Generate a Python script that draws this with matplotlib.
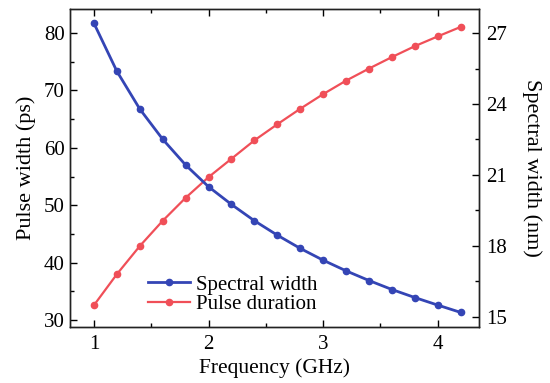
import matplotlib
matplotlib.use("Agg")
import matplotlib.pyplot as plt
from matplotlib.ticker import MultipleLocator

freq = [1.0, 1.2, 1.4, 1.6, 1.8, 2.0, 2.2, 2.4, 2.6, 2.8, 3.0, 3.2, 3.4, 3.6, 3.8, 4.0, 4.2]
spectral_width = [27.42, 25.39, 23.79, 22.51, 21.42, 20.50, 19.75, 19.06, 18.45, 17.89,
                  17.39, 16.94, 16.53, 16.15, 15.81, 15.49, 15.18]
pulse_duration = [32.6, 38.0, 42.9, 47.3, 51.3, 54.9, 58.1, 61.3, 64.1, 66.8,
                  69.35, 71.7, 73.8, 75.8, 77.7, 79.4, 81.05]

plt.rcParams['font.family'] = ['Liberation Serif', 'DejaVu Serif']
plt.rcParams['font.size'] = 15

blue = '#3445b5'
red = '#f04f58'

fig = plt.figure(figsize=(5.5, 3.83), dpi=100)
ax = fig.add_axes([0.127, 0.146, 0.744, 0.831])
ax2 = ax.twinx()

l2, = ax.plot(freq, pulse_duration, '-o', color=red, lw=1.6, ms=4.5, label='Pulse duration')
l1, = ax2.plot(freq, spectral_width, '-o', color=blue, lw=2.0, ms=4.5, label='Spectral width')

ax.set_xlim(0.79, 4.36)
ax.set_ylim(28.8, 84.2)
ax2.set_ylim(14.56, 28.03)

ax.xaxis.set_major_locator(MultipleLocator(1))
ax.xaxis.set_minor_locator(MultipleLocator(0.5))
ax.yaxis.set_major_locator(MultipleLocator(10))
ax.yaxis.set_minor_locator(MultipleLocator(5))
ax2.yaxis.set_major_locator(MultipleLocator(3))
ax2.yaxis.set_minor_locator(MultipleLocator(1.5))

ax.tick_params(axis='x', which='both', direction='in', top=True)
ax.tick_params(axis='y', which='both', direction='in')
ax.tick_params(which='major', length=5, width=1)
ax.tick_params(which='minor', length=3, width=1)
ax2.tick_params(which='both', direction='in')
ax2.tick_params(which='major', length=5, width=1)
ax2.tick_params(which='minor', length=3, width=1)
ax.tick_params(axis='both', labelsize=15)
ax.tick_params(axis='x', pad=6)
ax2.tick_params(axis='y', labelsize=15, pad=5)

for a in (ax, ax2):
    for s in a.spines.values():
        s.set_linewidth(1.0)
        s.set_color('#222222')

ax.set_xlabel('Frequency (GHz)', fontsize=15.5, labelpad=3)
ax.set_ylabel('Pulse width (ps)', fontsize=16, labelpad=6)
ax2.set_ylabel('Spectral width (nm)', fontsize=16, rotation=270, labelpad=25)

ax2.legend(handles=[l1, l2], loc='lower left', bbox_to_anchor=(0.155, -0.005),
           frameon=False, fontsize=15, handlelength=2.0, handletextpad=0.3,
           labelspacing=0.0, borderaxespad=0.3)

fig.savefig('out.png', dpi=100)
